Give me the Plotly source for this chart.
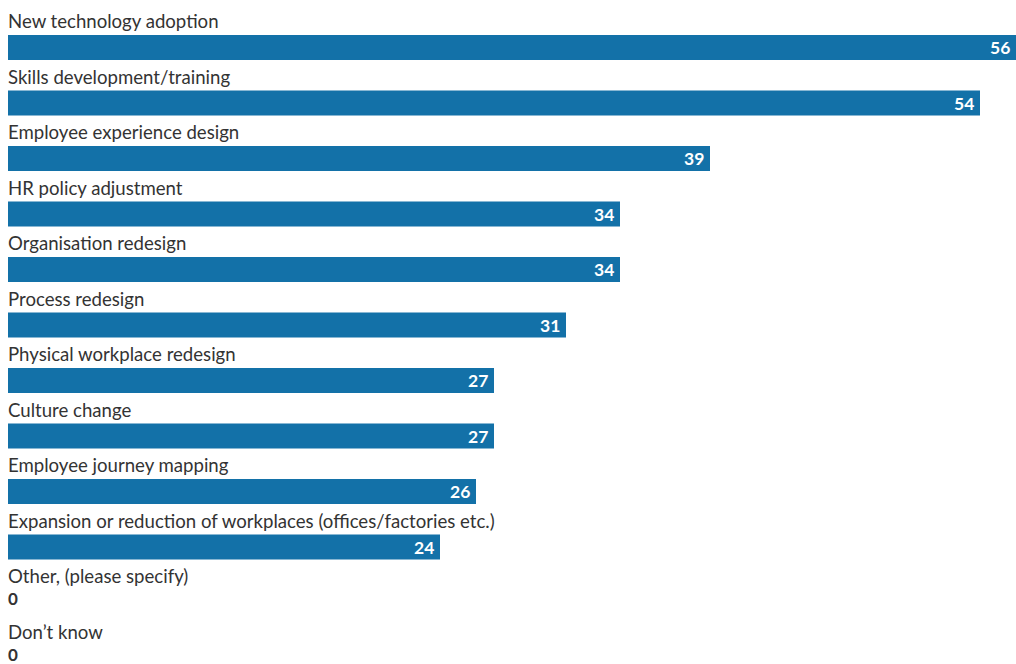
import plotly.graph_objects as go

categories = [
    "New technology adoption",
    "Skills development/training",
    "Employee experience design",
    "HR policy adjustment",
    "Organisation redesign",
    "Process redesign",
    "Physical workplace redesign",
    "Culture change",
    "Employee journey mapping",
    "Expansion or reduction of workplaces (offices/factories etc.)",
    "Other, (please specify)",
    "Don\u2019t know",
]
values = [56, 54, 39, 34, 34, 31, 27, 27, 26, 24, 0, 0]

BAR_COLOR = "#1371a8"
TEXT_COLOR = "#333333"
FONT = "Lato"

rows = list(range(len(categories)))

fig = go.Figure(
    go.Bar(
        x=values,
        y=rows,
        orientation="h",
        width=0.45,
        marker=dict(color=BAR_COLOR, line=dict(width=0)),
        hoverinfo="skip",
    )
)

annotations = []
for i, (cat, v) in enumerate(zip(categories, values)):
    # category label sits above its bar
    annotations.append(dict(
        x=0, y=i - 0.477, xref="x", yref="y", text=cat, showarrow=False,
        xanchor="left", yanchor="middle", xshift=-2,
        font=dict(family=FONT, size=18.6, color=TEXT_COLOR),
    ))
    # value label: inside the bar end, or at the baseline for zero
    if v > 0:
        annotations.append(dict(
            x=v, y=i, xref="x", yref="y", text=f"<b>{v}</b>", showarrow=False,
            xanchor="right", yanchor="middle", xshift=-4,
            font=dict(family=FONT, size=17.5, color="white"),
        ))
    else:
        annotations.append(dict(
            x=0, y=i, xref="x", yref="y", text=f"<b>{v}</b>", showarrow=False,
            xanchor="left", yanchor="middle", xshift=-1, yshift=4,
            borderpad=0,
            font=dict(family=FONT, size=17, color=TEXT_COLOR),
        ))

row_px = 55.5
top = -47.5 / row_px
bottom = top + 664 / row_px

fig.update_layout(
    width=1016, height=664,
    margin=dict(l=0, r=0, t=0, b=0),
    paper_bgcolor="white", plot_bgcolor="white",
    showlegend=False,
    xaxis=dict(range=[-8 / 18, 56], visible=False, fixedrange=True),
    yaxis=dict(range=[bottom, top], visible=False, fixedrange=True),
    annotations=annotations,
    font=dict(family=FONT),
)

fig.write_html("out.html", config={"displayModeBar": False})
